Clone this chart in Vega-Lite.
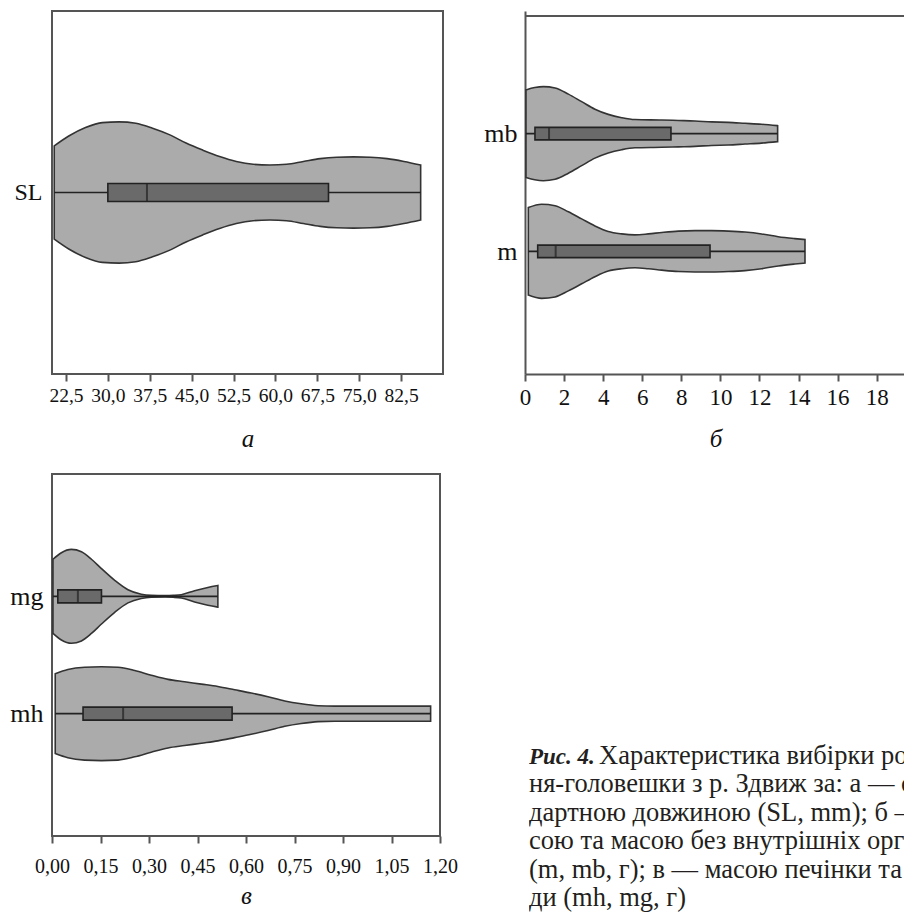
{
  "$schema": "https://vega.github.io/schema/vega-lite/v6.json",
  "padding": {"left": 8, "top": 10, "right": 0, "bottom": 0},
  "background": "white",
  "datasets": {
    "violin": [
      {"var": "SL", "value": 20.4, "w": 0.66}, {"var": "SL", "value": 23, "w": 0.80}, {"var": "SL", "value": 26, "w": 0.92},
      {"var": "SL", "value": 29, "w": 0.99}, {"var": "SL", "value": 32, "w": 1.0}, {"var": "SL", "value": 35, "w": 0.98},
      {"var": "SL", "value": 38, "w": 0.91}, {"var": "SL", "value": 41, "w": 0.82}, {"var": "SL", "value": 44, "w": 0.70},
      {"var": "SL", "value": 47, "w": 0.60}, {"var": "SL", "value": 50, "w": 0.51}, {"var": "SL", "value": 53, "w": 0.44},
      {"var": "SL", "value": 56, "w": 0.40}, {"var": "SL", "value": 59, "w": 0.39}, {"var": "SL", "value": 62, "w": 0.40},
      {"var": "SL", "value": 65, "w": 0.44}, {"var": "SL", "value": 68, "w": 0.48}, {"var": "SL", "value": 71, "w": 0.50},
      {"var": "SL", "value": 74, "w": 0.505}, {"var": "SL", "value": 77, "w": 0.50}, {"var": "SL", "value": 80, "w": 0.48},
      {"var": "SL", "value": 83, "w": 0.44}, {"var": "SL", "value": 86, "w": 0.39},
      {"var": "mb", "value": 0.05, "w": 0.93}, {"var": "mb", "value": 0.5, "w": 0.98}, {"var": "mb", "value": 0.94, "w": 1.0},
      {"var": "mb", "value": 1.54, "w": 0.97}, {"var": "mb", "value": 2.22, "w": 0.84}, {"var": "mb", "value": 2.9, "w": 0.68},
      {"var": "mb", "value": 3.58, "w": 0.52}, {"var": "mb", "value": 4.26, "w": 0.41}, {"var": "mb", "value": 4.95, "w": 0.34},
      {"var": "mb", "value": 5.63, "w": 0.30}, {"var": "mb", "value": 7.0, "w": 0.29}, {"var": "mb", "value": 7.85, "w": 0.28},
      {"var": "mb", "value": 8.7, "w": 0.27}, {"var": "mb", "value": 9.55, "w": 0.25}, {"var": "mb", "value": 10.4, "w": 0.24},
      {"var": "mb", "value": 11.26, "w": 0.22}, {"var": "mb", "value": 12.1, "w": 0.20}, {"var": "mb", "value": 12.93, "w": 0.17},
      {"var": "m", "value": 0.17, "w": 0.93}, {"var": "m", "value": 0.85, "w": 1.0}, {"var": "m", "value": 1.54, "w": 0.97},
      {"var": "m", "value": 2.22, "w": 0.84}, {"var": "m", "value": 2.9, "w": 0.69}, {"var": "m", "value": 3.58, "w": 0.54},
      {"var": "m", "value": 4.26, "w": 0.42}, {"var": "m", "value": 4.95, "w": 0.37}, {"var": "m", "value": 5.63, "w": 0.35},
      {"var": "m", "value": 6.31, "w": 0.37}, {"var": "m", "value": 7.0, "w": 0.40}, {"var": "m", "value": 7.85, "w": 0.43},
      {"var": "m", "value": 8.7, "w": 0.44}, {"var": "m", "value": 9.55, "w": 0.44}, {"var": "m", "value": 10.41, "w": 0.43},
      {"var": "m", "value": 11.26, "w": 0.41}, {"var": "m", "value": 12.11, "w": 0.37}, {"var": "m", "value": 12.96, "w": 0.31},
      {"var": "m", "value": 13.81, "w": 0.27}, {"var": "m", "value": 14.33, "w": 0.25},
      {"var": "mg", "value": 0.003, "w": 0.79}, {"var": "mg", "value": 0.029, "w": 0.93}, {"var": "mg", "value": 0.06, "w": 1.0},
      {"var": "mg", "value": 0.091, "w": 0.95}, {"var": "mg", "value": 0.122, "w": 0.79}, {"var": "mg", "value": 0.153, "w": 0.59},
      {"var": "mg", "value": 0.194, "w": 0.34}, {"var": "mg", "value": 0.235, "w": 0.14}, {"var": "mg", "value": 0.276, "w": 0.045},
      {"var": "mg", "value": 0.307, "w": 0.02}, {"var": "mg", "value": 0.35, "w": 0.015}, {"var": "mg", "value": 0.375, "w": 0.02},
      {"var": "mg", "value": 0.40, "w": 0.035}, {"var": "mg", "value": 0.441, "w": 0.12}, {"var": "mg", "value": 0.482, "w": 0.19},
      {"var": "mg", "value": 0.513, "w": 0.23},
      {"var": "mh", "value": 0.01, "w": 0.85}, {"var": "mh", "value": 0.049, "w": 0.94}, {"var": "mh", "value": 0.101, "w": 0.99},
      {"var": "mh", "value": 0.153, "w": 1.0}, {"var": "mh", "value": 0.204, "w": 0.99}, {"var": "mh", "value": 0.256, "w": 0.92},
      {"var": "mh", "value": 0.307, "w": 0.82}, {"var": "mh", "value": 0.359, "w": 0.73}, {"var": "mh", "value": 0.41, "w": 0.68},
      {"var": "mh", "value": 0.462, "w": 0.63}, {"var": "mh", "value": 0.513, "w": 0.58}, {"var": "mh", "value": 0.565, "w": 0.51},
      {"var": "mh", "value": 0.616, "w": 0.44}, {"var": "mh", "value": 0.668, "w": 0.36}, {"var": "mh", "value": 0.72, "w": 0.27},
      {"var": "mh", "value": 0.771, "w": 0.21}, {"var": "mh", "value": 0.823, "w": 0.17}, {"var": "mh", "value": 0.874, "w": 0.16},
      {"var": "mh", "value": 0.95, "w": 0.16}, {"var": "mh", "value": 1.05, "w": 0.16}, {"var": "mh", "value": 1.171, "w": 0.16}
    ],
    "box": [
      {"var": "SL", "min": 20.4, "q1": 30.0, "median": 37.0, "q3": 69.5, "max": 86.0},
      {"var": "mb", "min": 0.05, "q1": 0.51, "median": 1.23, "q3": 7.47, "max": 12.93},
      {"var": "m", "min": 0.17, "q1": 0.65, "median": 1.57, "q3": 9.47, "max": 14.33},
      {"var": "mg", "min": 0.003, "q1": 0.018, "median": 0.08, "q3": 0.153, "max": 0.513},
      {"var": "mh", "min": 0.01, "q1": 0.096, "median": 0.22, "q3": 0.557, "max": 1.171}
    ],
    "caption": [
      {"line": 1, "part": "head", "text": "Рис. 4."},
      {"line": 1, "part": "lead", "text": "Характеристика вибірки рота-"},
      {"line": 2, "part": "body", "text": "ня-головешки з р. Здвиж за: а — стан-"},
      {"line": 3, "part": "body", "text": "дартною довжиною (SL, mm); б — ма-"},
      {"line": 4, "part": "body", "text": "сою та масою без внутрішніх органів"},
      {"line": 5, "part": "body", "text": "(m, mb, г); в — масою печінки та гона-"},
      {"line": 6, "part": "body", "text": "ди (mh, mg, г)"}
    ]
  },
  "vconcat": [
    {
      "spacing": 39,
      "hconcat": [
        {
          "width": 391, "height": 363,
          "layer": [
            {
              "data": {"name": "violin"},
              "transform": [{"filter": "datum.var === 'SL'"}],
              "mark": {"type": "area", "interpolate": "monotone", "fill": "#ababab", "fillOpacity": 1, "stroke": "#333333", "strokeWidth": 1.6},
              "encoding": {
                "x": {"field": "value", "type": "quantitative", "scale": {"domain": [20, 90], "nice": false, "zero": false},
                  "axis": {"values": [22.5, 30, 37.5, 45, 52.5, 60, 67.5, 75, 82.5], "labelExpr": "replace(format(datum.value, '.1f'), '.', ',')",
                    "labelFontSize": 19.5, "labelFlush": false, "domain": false, "ticks": true, "tickSize": 7, "tickWidth": 2, "tickColor": "#555555",
                    "labelPadding": 5, "title": "а", "titleFontStyle": "italic", "titleFontWeight": "normal", "titleFontSize": 25, "titlePadding": 22}},
                "y": {"field": "w", "type": "quantitative", "stack": "center", "scale": {"domain": [-0.75, 1.75], "nice": false, "zero": false},
                  "axis": {"values": [0.5], "labelExpr": "'SL'", "labelFontSize": 24, "ticks": false, "domain": false, "labelPadding": 10, "title": null}}
              }
            },
            {
              "data": {"name": "box"},
              "transform": [{"filter": "datum.var === 'SL'"}],
              "mark": {"type": "rule", "color": "#222222", "strokeWidth": 1.6},
              "encoding": {
                "x": {"field": "min", "type": "quantitative", "scale": {"domain": [20, 90], "nice": false, "zero": false}},
                "x2": {"field": "max"},
                "y": {"datum": 0.5, "type": "quantitative", "scale": {"domain": [-0.75, 1.75], "nice": false, "zero": false}}
              }
            },
            {
              "data": {"name": "box"},
              "transform": [{"filter": "datum.var === 'SL'"}],
              "mark": {"type": "bar", "orient": "horizontal", "size": 18, "fill": "#6a6a6a", "stroke": "#222222", "strokeWidth": 1.6},
              "encoding": {
                "x": {"field": "q1", "type": "quantitative", "scale": {"domain": [20, 90], "nice": false, "zero": false}},
                "x2": {"field": "q3"},
                "y": {"datum": 0.5, "type": "quantitative", "scale": {"domain": [-0.75, 1.75], "nice": false, "zero": false}}
              }
            },
            {
              "data": {"name": "box"},
              "transform": [{"filter": "datum.var === 'SL'"}],
              "mark": {"type": "tick", "orient": "vertical", "size": 18, "thickness": 2, "color": "#222222"},
              "encoding": {
                "x": {"field": "median", "type": "quantitative", "scale": {"domain": [20, 90], "nice": false, "zero": false}},
                "y": {"datum": 0.5, "type": "quantitative", "scale": {"domain": [-0.75, 1.75], "nice": false, "zero": false}}
              }
            }
          ]
        },
        {
          "width": 381, "height": 363,
          "view": {"stroke": null},
          "layer": [
            {
              "layer": [
                {
                  "data": {"name": "violin"},
                  "transform": [{"filter": "datum.var === 'mb'"}],
                  "mark": {"type": "area", "interpolate": "monotone", "fill": "#ababab", "fillOpacity": 1, "stroke": "#333333", "strokeWidth": 1.6},
                  "encoding": {
                    "x": {"field": "value", "type": "quantitative", "scale": {"domain": [0, 19.5], "nice": false, "zero": false},
                      "axis": {"values": [0, 2, 4, 6, 8, 10, 12, 14, 16, 18], "format": "d",
                        "labelFontSize": 23, "labelFlush": false, "domain": true, "domainColor": "#555555", "domainWidth": 2, "ticks": true, "tickSize": 7, "tickWidth": 2, "tickColor": "#555555",
                        "labelPadding": 5, "title": "б", "titleFontStyle": "italic", "titleFontWeight": "normal", "titleFontSize": 25, "titlePadding": 17}},
                    "y": {"field": "w", "type": "quantitative", "stack": "center", "scale": {"domain": [-2, 1.75], "nice": false, "zero": false},
                      "axis": {"orient": "left", "values": [0.5], "labelExpr": "'mb'", "labelFontSize": 26, "ticks": false, "domain": true, "domainColor": "#555555", "domainWidth": 2, "labelPadding": 8, "title": null}}
                  }
                },
                {
                  "data": {"name": "box"},
                  "transform": [{"filter": "datum.var === 'mb'"}],
                  "mark": {"type": "rule", "color": "#222222", "strokeWidth": 1.6},
                  "encoding": {
                    "x": {"field": "min", "type": "quantitative", "scale": {"domain": [0, 19.5], "nice": false, "zero": false}},
                    "x2": {"field": "max"},
                    "y": {"datum": 0.5, "type": "quantitative", "scale": {"domain": [-2, 1.75], "nice": false, "zero": false}}
                  }
                },
                {
                  "data": {"name": "box"},
                  "transform": [{"filter": "datum.var === 'mb'"}],
                  "mark": {"type": "bar", "orient": "horizontal", "size": 12.5, "fill": "#6a6a6a", "stroke": "#222222", "strokeWidth": 1.6},
                  "encoding": {
                    "x": {"field": "q1", "type": "quantitative", "scale": {"domain": [0, 19.5], "nice": false, "zero": false}},
                    "x2": {"field": "q3"},
                    "y": {"datum": 0.5, "type": "quantitative", "scale": {"domain": [-2, 1.75], "nice": false, "zero": false}}
                  }
                },
                {
                  "data": {"name": "box"},
                  "transform": [{"filter": "datum.var === 'mb'"}],
                  "mark": {"type": "tick", "orient": "vertical", "size": 12.5, "thickness": 2, "color": "#222222"},
                  "encoding": {
                    "x": {"field": "median", "type": "quantitative", "scale": {"domain": [0, 19.5], "nice": false, "zero": false}},
                    "y": {"datum": 0.5, "type": "quantitative", "scale": {"domain": [-2, 1.75], "nice": false, "zero": false}}
                  }
                },
                {
                  "data": {"name": "box"},
                  "transform": [{"filter": "datum.var === 'mb'"}],
                  "mark": {"type": "rule", "color": "#555555", "strokeWidth": 2},
                  "encoding": {
                    "y": {"datum": 1.75, "type": "quantitative", "scale": {"domain": [-2, 1.75], "nice": false, "zero": false}}
                  }
                }
              ]
            },
            {
              "layer": [
                {
                  "data": {"name": "violin"},
                  "transform": [{"filter": "datum.var === 'm'"}],
                  "mark": {"type": "area", "interpolate": "monotone", "fill": "#ababab", "fillOpacity": 1, "stroke": "#333333", "strokeWidth": 1.6},
                  "encoding": {
                    "x": {"field": "value", "type": "quantitative", "scale": {"domain": [0, 19.5], "nice": false, "zero": false}},
                    "y": {"field": "w", "type": "quantitative", "stack": "center", "scale": {"domain": [-0.75, 3], "nice": false, "zero": false},
                      "axis": {"orient": "left", "values": [0.5], "labelExpr": "'m'", "labelFontSize": 26, "ticks": false, "domain": false, "labelPadding": 8, "title": null}}
                  }
                },
                {
                  "data": {"name": "box"},
                  "transform": [{"filter": "datum.var === 'm'"}],
                  "mark": {"type": "rule", "color": "#222222", "strokeWidth": 1.6},
                  "encoding": {
                    "x": {"field": "min", "type": "quantitative", "scale": {"domain": [0, 19.5], "nice": false, "zero": false}},
                    "x2": {"field": "max"},
                    "y": {"datum": 0.5, "type": "quantitative", "scale": {"domain": [-0.75, 3], "nice": false, "zero": false}}
                  }
                },
                {
                  "data": {"name": "box"},
                  "transform": [{"filter": "datum.var === 'm'"}],
                  "mark": {"type": "bar", "orient": "horizontal", "size": 12.5, "fill": "#6a6a6a", "stroke": "#222222", "strokeWidth": 1.6},
                  "encoding": {
                    "x": {"field": "q1", "type": "quantitative", "scale": {"domain": [0, 19.5], "nice": false, "zero": false}},
                    "x2": {"field": "q3"},
                    "y": {"datum": 0.5, "type": "quantitative", "scale": {"domain": [-0.75, 3], "nice": false, "zero": false}}
                  }
                },
                {
                  "data": {"name": "box"},
                  "transform": [{"filter": "datum.var === 'm'"}],
                  "mark": {"type": "tick", "orient": "vertical", "size": 12.5, "thickness": 2, "color": "#222222"},
                  "encoding": {
                    "x": {"field": "median", "type": "quantitative", "scale": {"domain": [0, 19.5], "nice": false, "zero": false}},
                    "y": {"datum": 0.5, "type": "quantitative", "scale": {"domain": [-0.75, 3], "nice": false, "zero": false}}
                  }
                }
              ]
            }
          ],
          "resolve": {"scale": {"y": "independent"}, "axis": {"y": "independent"}}
        }
      ]
    },
    {
      "spacing": 70,
      "hconcat": [
        {
          "width": 388, "height": 362,
          "layer": [
            {
              "layer": [
                {
                  "data": {"name": "violin"},
                  "transform": [{"filter": "datum.var === 'mg'"}],
                  "mark": {"type": "area", "interpolate": "monotone", "fill": "#ababab", "fillOpacity": 1, "stroke": "#333333", "strokeWidth": 1.6},
                  "encoding": {
                    "x": {"field": "value", "type": "quantitative", "scale": {"domain": [0, 1.2], "nice": false, "zero": false},
                      "axis": {"values": [0, 0.15, 0.3, 0.45, 0.6, 0.75, 0.9, 1.05, 1.2], "labelExpr": "replace(format(datum.value, '.2f'), '.', ',')",
                        "labelFontSize": 20, "labelFlush": false, "domain": false, "ticks": true, "tickSize": 7, "tickWidth": 2, "tickColor": "#555555",
                        "labelPadding": 13, "title": "в", "titleFontStyle": "italic", "titleFontWeight": "normal", "titleFontSize": 25, "titlePadding": 7}},
                    "y": {"field": "w", "type": "quantitative", "stack": "center", "scale": {"domain": [-2, 1.75], "nice": false, "zero": false},
                      "axis": {"orient": "left", "values": [0.5], "labelExpr": "'mg'", "labelFontSize": 26, "ticks": false, "domain": false, "labelPadding": 9, "title": null}}
                  }
                },
                {
                  "data": {"name": "box"},
                  "transform": [{"filter": "datum.var === 'mg'"}],
                  "mark": {"type": "rule", "color": "#222222", "strokeWidth": 1.6},
                  "encoding": {
                    "x": {"field": "min", "type": "quantitative", "scale": {"domain": [0, 1.2], "nice": false, "zero": false}},
                    "x2": {"field": "max"},
                    "y": {"datum": 0.5, "type": "quantitative", "scale": {"domain": [-2, 1.75], "nice": false, "zero": false}}
                  }
                },
                {
                  "data": {"name": "box"},
                  "transform": [{"filter": "datum.var === 'mg'"}],
                  "mark": {"type": "bar", "orient": "horizontal", "size": 13, "fill": "#6a6a6a", "stroke": "#222222", "strokeWidth": 1.6},
                  "encoding": {
                    "x": {"field": "q1", "type": "quantitative", "scale": {"domain": [0, 1.2], "nice": false, "zero": false}},
                    "x2": {"field": "q3"},
                    "y": {"datum": 0.5, "type": "quantitative", "scale": {"domain": [-2, 1.75], "nice": false, "zero": false}}
                  }
                },
                {
                  "data": {"name": "box"},
                  "transform": [{"filter": "datum.var === 'mg'"}],
                  "mark": {"type": "tick", "orient": "vertical", "size": 13, "thickness": 2, "color": "#222222"},
                  "encoding": {
                    "x": {"field": "median", "type": "quantitative", "scale": {"domain": [0, 1.2], "nice": false, "zero": false}},
                    "y": {"datum": 0.5, "type": "quantitative", "scale": {"domain": [-2, 1.75], "nice": false, "zero": false}}
                  }
                }
              ]
            },
            {
              "layer": [
                {
                  "data": {"name": "violin"},
                  "transform": [{"filter": "datum.var === 'mh'"}],
                  "mark": {"type": "area", "interpolate": "monotone", "fill": "#ababab", "fillOpacity": 1, "stroke": "#333333", "strokeWidth": 1.6},
                  "encoding": {
                    "x": {"field": "value", "type": "quantitative", "scale": {"domain": [0, 1.2], "nice": false, "zero": false}},
                    "y": {"field": "w", "type": "quantitative", "stack": "center", "scale": {"domain": [-0.75, 3], "nice": false, "zero": false},
                      "axis": {"orient": "left", "values": [0.5], "labelExpr": "'mh'", "labelFontSize": 26, "ticks": false, "domain": false, "labelPadding": 9, "title": null}}
                  }
                },
                {
                  "data": {"name": "box"},
                  "transform": [{"filter": "datum.var === 'mh'"}],
                  "mark": {"type": "rule", "color": "#222222", "strokeWidth": 1.6},
                  "encoding": {
                    "x": {"field": "min", "type": "quantitative", "scale": {"domain": [0, 1.2], "nice": false, "zero": false}},
                    "x2": {"field": "max"},
                    "y": {"datum": 0.5, "type": "quantitative", "scale": {"domain": [-0.75, 3], "nice": false, "zero": false}}
                  }
                },
                {
                  "data": {"name": "box"},
                  "transform": [{"filter": "datum.var === 'mh'"}],
                  "mark": {"type": "bar", "orient": "horizontal", "size": 13, "fill": "#6a6a6a", "stroke": "#222222", "strokeWidth": 1.6},
                  "encoding": {
                    "x": {"field": "q1", "type": "quantitative", "scale": {"domain": [0, 1.2], "nice": false, "zero": false}},
                    "x2": {"field": "q3"},
                    "y": {"datum": 0.5, "type": "quantitative", "scale": {"domain": [-0.75, 3], "nice": false, "zero": false}}
                  }
                },
                {
                  "data": {"name": "box"},
                  "transform": [{"filter": "datum.var === 'mh'"}],
                  "mark": {"type": "tick", "orient": "vertical", "size": 13, "thickness": 2, "color": "#222222"},
                  "encoding": {
                    "x": {"field": "median", "type": "quantitative", "scale": {"domain": [0, 1.2], "nice": false, "zero": false}},
                    "y": {"datum": 0.5, "type": "quantitative", "scale": {"domain": [-0.75, 3], "nice": false, "zero": false}}
                  }
                }
              ]
            }
          ],
          "resolve": {"scale": {"y": "independent"}, "axis": {"y": "independent"}}
        },
        {
          "width": 380, "height": 440,
          "view": {"stroke": null},
          "data": {"name": "caption"},
          "layer": [
            {
              "transform": [{"filter": "datum.part === 'head'"}],
              "mark": {"type": "text", "align": "left", "baseline": "alphabetic", "font": "Liberation Serif", "fontSize": 23, "fontWeight": "bold", "fontStyle": "italic", "color": "#231f20", "clip": true},
              "encoding": {
                "x": {"datum": 0, "type": "quantitative", "scale": {"domain": [0, 1], "nice": false, "zero": false}, "axis": null},
                "y": {"field": "line", "type": "quantitative", "scale": {"domain": [-9.21, 6.28], "reverse": true, "nice": false, "zero": false}, "axis": null},
                "text": {"field": "text"}
              }
            },
            {
              "transform": [{"filter": "datum.part === 'lead'"}],
              "mark": {"type": "text", "align": "left", "baseline": "alphabetic", "dx": 70, "font": "Liberation Serif", "fontSize": 26.5, "color": "#231f20", "clip": true},
              "encoding": {
                "x": {"datum": 0, "type": "quantitative", "scale": {"domain": [0, 1], "nice": false, "zero": false}, "axis": null},
                "y": {"field": "line", "type": "quantitative", "scale": {"domain": [-9.21, 6.28], "reverse": true, "nice": false, "zero": false}, "axis": null},
                "text": {"field": "text"}
              }
            },
            {
              "transform": [{"filter": "datum.part === 'body'"}],
              "mark": {"type": "text", "align": "left", "baseline": "alphabetic", "font": "Liberation Serif", "fontSize": 26.5, "color": "#231f20", "clip": true},
              "encoding": {
                "x": {"datum": 0, "type": "quantitative", "scale": {"domain": [0, 1], "nice": false, "zero": false}, "axis": null},
                "y": {"field": "line", "type": "quantitative", "scale": {"domain": [-9.21, 6.28], "reverse": true, "nice": false, "zero": false}, "axis": null},
                "text": {"field": "text"}
              }
            }
          ]
        }
      ]
    }
  ],
  "spacing": 20,
  "config": {
    "view": {"stroke": "#555555", "strokeWidth": 2},
    "axis": {"labelFont": "Liberation Serif", "titleFont": "Liberation Serif", "labelColor": "#111111", "titleColor": "#111111", "grid": false, "labelOverlap": false},
    "text": {"font": "Liberation Serif"}
  }
}
